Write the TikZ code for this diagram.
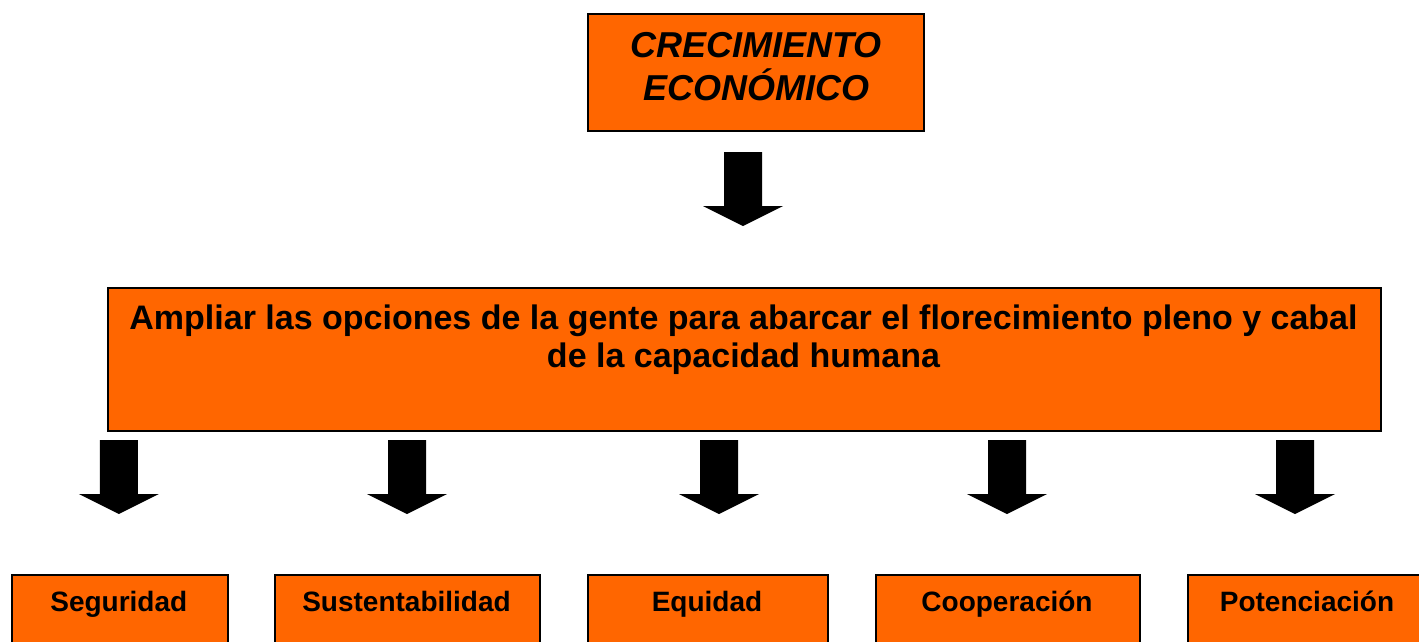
\documentclass[tikz,border=0pt]{standalone}
\usepackage{fontspec}
\setmainfont{Liberation Sans}
\definecolor{boxorange}{HTML}{FF6600}
\begin{document}
\begin{tikzpicture}[x=1pt,y=-1pt,
  obox/.style={draw=black, line width=2pt, fill=boxorange, inner sep=0pt, anchor=north west},
  lbl/.style={font=\bfseries\fontsize{28}{34}\selectfont, anchor=base, inner sep=0pt},
  blockarrow/.pic={\fill[black] (-19,0) -- (19,0) -- (19,54) -- (40,54) -- (0,74) -- (-40,54) -- (-19,54) -- cycle;}
]
\useasboundingbox (0,0) rectangle (1419,641);
\clip (0,0) rectangle (1419,641);
% boxes
\node[obox, minimum width=336pt, minimum height=117pt] (top) at (586.5,12.5) {};
\node[obox, minimum width=1273pt, minimum height=143.5pt] (big) at (107,286.5) {};
\node[obox, minimum width=216.5pt, minimum height=90pt] (seg) at (10.5,574) {};
\node[obox, minimum width=265pt, minimum height=90pt] (sus) at (274,574) {};
\node[obox, minimum width=240pt, minimum height=90pt] (equ) at (587,574) {};
\node[obox, minimum width=264pt, minimum height=90pt] (coo) at (875,574) {};
\node[obox, minimum width=240pt, minimum height=90pt] (pot) at (1187,574) {};
% texts (base anchor = baseline of the last line)
\node[anchor=base, inner sep=0pt, align=center, font=\bfseries\itshape\fontsize{36}{43}\selectfont] (toptxt) at (756,100) {CRECIMIENTO\\ECONÓMICO};
\node[anchor=base, inner sep=0pt, align=center, font=\bfseries\fontsize{34}{38}\selectfont] (bigtxt) at (743.5,367) {Ampliar las opciones de la gente para abarcar el florecimiento pleno y cabal\\de la capacidad humana};
\node[lbl] (segtxt) at (118.8,611.5) {Seguridad};
\node[lbl] (sustxt) at (406.5,611.5) {Sustentabilidad};
\node[lbl] (equtxt) at (707,611.5) {Equidad};
\node[lbl] (cootxt) at (1007,611.5) {Cooperación};
\node[lbl] (pottxt) at (1307,611.5) {Potenciación};
% arrows
\coordinate (a0) at (743,152);
\coordinate (a1) at (118.8,440);
\coordinate (a2) at (407,440);
\coordinate (a3) at (719,440);
\coordinate (a4) at (1007,440);
\coordinate (a5) at (1295,440);
\foreach \a in {a0,a1,a2,a3,a4,a5} \pic at (\a) {blockarrow};
\end{tikzpicture}
\end{document}
